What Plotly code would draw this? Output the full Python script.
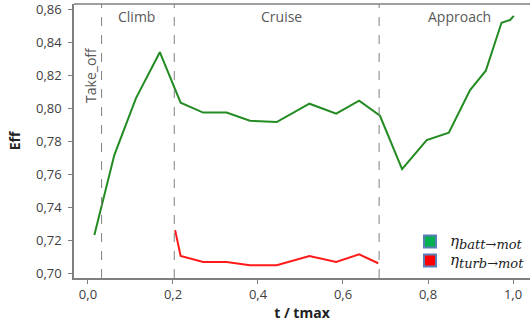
import plotly.graph_objects as go

# Battery -> motor efficiency over the normalised mission time
t_batt = [0.015, 0.062, 0.113, 0.169, 0.218, 0.271, 0.326, 0.381, 0.444, 0.521,
          0.584, 0.638, 0.687, 0.739, 0.797, 0.849, 0.899, 0.936, 0.973, 0.993, 1.002]
eff_batt = [0.723, 0.7715, 0.806, 0.8338, 0.8032, 0.7972, 0.7972, 0.7923, 0.7915, 0.8026,
            0.7966, 0.8044, 0.7953, 0.763, 0.7806, 0.785, 0.8109, 0.8226, 0.8517, 0.8533, 0.8558]

# Turbine -> motor efficiency (cruise segment only)
t_turb = [0.205, 0.218, 0.271, 0.326, 0.381, 0.444, 0.521, 0.584, 0.638, 0.683]
eff_turb = [0.726, 0.7103, 0.7067, 0.7067, 0.7047, 0.7047, 0.7103, 0.7067, 0.7113, 0.7059]

# Flight phase boundaries and labels
phase_bounds = [0.032, 0.203, 0.685]
phase_names = ["Climb", "Cruise", "Approach"]
phase_label_x = [0.115, 0.456, 0.873]
takeoff_label = "Take_off"
takeoff_x = 0.007

x_ticks = [0.0, 0.2, 0.4, 0.6, 0.8, 1.0]
y_ticks = [0.70, 0.72, 0.74, 0.76, 0.78, 0.80, 0.82, 0.84, 0.86]

GREEN = "rgb(34,139,34)"
RED = "rgb(255,25,25)"
AXIS = "#7f7f7f"
TEXT = "#404040"


def eta_label(sub):
    return ("<span style='font-size:15px'><i>η</i></span>"
            "<sub><span style='font-size:13px'><i>" + sub + "</i></span></sub>")


fig = go.Figure()
fig.add_trace(go.Scatter(x=t_batt, y=eff_batt, mode="lines",
                         line=dict(color=GREEN, width=2), showlegend=False))
fig.add_trace(go.Scatter(x=t_turb, y=eff_turb, mode="lines",
                         line=dict(color=RED, width=2), showlegend=False))

# Square legend keys
legend_font = dict(family="DejaVu Serif", size=12, color="#222222")
fig.add_trace(go.Scatter(x=[None], y=[None], mode="markers",
                         marker=dict(symbol="square", size=10, color="#00b050",
                                     line=dict(color="#5b7fb5", width=1)),
                         name=eta_label("batt→mot")))
fig.add_trace(go.Scatter(x=[None], y=[None], mode="markers",
                         marker=dict(symbol="square", size=10, color="#ff0000",
                                     line=dict(color="#5b7fb5", width=1)),
                         name=eta_label("turb→mot")))

shapes = []
for xb in phase_bounds:
    shapes.append(dict(type="line", xref="x", yref="paper", x0=xb, x1=xb, y0=0, y1=1,
                       line=dict(color="#808080", width=1, dash="dash")))
# top frame line
shapes.append(dict(type="line", xref="paper", yref="paper", x0=0, x1=1, y0=1, y1=1,
                   line=dict(color=AXIS, width=1.5)))

label_font = dict(family="Open Sans", size=14, color="#595959")
annotations = []
for name, xl in zip(phase_names, phase_label_x):
    annotations.append(dict(x=xl, y=0.956, xref="x", yref="paper", text=name,
                            xanchor="center", yanchor="middle",
                            showarrow=False, font=label_font))
annotations.append(dict(x=takeoff_x, y=0.741, xref="x", yref="paper", text=takeoff_label,
                        xanchor="center", yanchor="middle",
                        textangle=-90, showarrow=False, font=label_font))

fig.update_layout(
    width=531, height=322,
    margin=dict(l=74, r=1, t=4, b=44),
    paper_bgcolor="white", plot_bgcolor="white",
    shapes=shapes, annotations=annotations,
    legend=dict(x=1.0, y=0.186, xanchor="right", yanchor="top",
                bgcolor="rgba(0,0,0,0)", font=legend_font, itemsizing="constant",
                tracegroupgap=0, entrywidth=50, entrywidthmode="pixels"),
    xaxis=dict(range=[-0.0329, 1.04], tickvals=x_ticks, automargin=False,
               ticktext=[f"{v:.1f}".replace(".", ",") for v in x_ticks],
               showline=True, linecolor=AXIS, linewidth=1.5, showgrid=False, zeroline=False,
               ticks="outside", ticklen=4, tickcolor=AXIS, ticklabeloverflow="allow",
               tickfont=dict(family="Open Sans", size=13, color=TEXT),
               title=dict(text="<b>t / tmax</b>", font=dict(family="Open Sans", size=14, color="#222222"),
                          standoff=14)),
    yaxis=dict(range=[0.69697, 0.86303], tickvals=y_ticks, automargin=False,
               ticktext=[f"{v:.2f}".replace(".", ",") for v in y_ticks],
               showline=True, linecolor=AXIS, linewidth=1.5, showgrid=False, zeroline=False,
               ticks="outside", ticklen=4, tickcolor=AXIS, ticklabeloverflow="allow",
               ticklabelstandoff=4,
               tickfont=dict(family="Open Sans", size=13, color=TEXT),
               title=dict(text="<b>Eff</b>", font=dict(family="Open Sans", size=14, color="#222222"),
                          standoff=12)),
)

fig.write_html("out.html")
